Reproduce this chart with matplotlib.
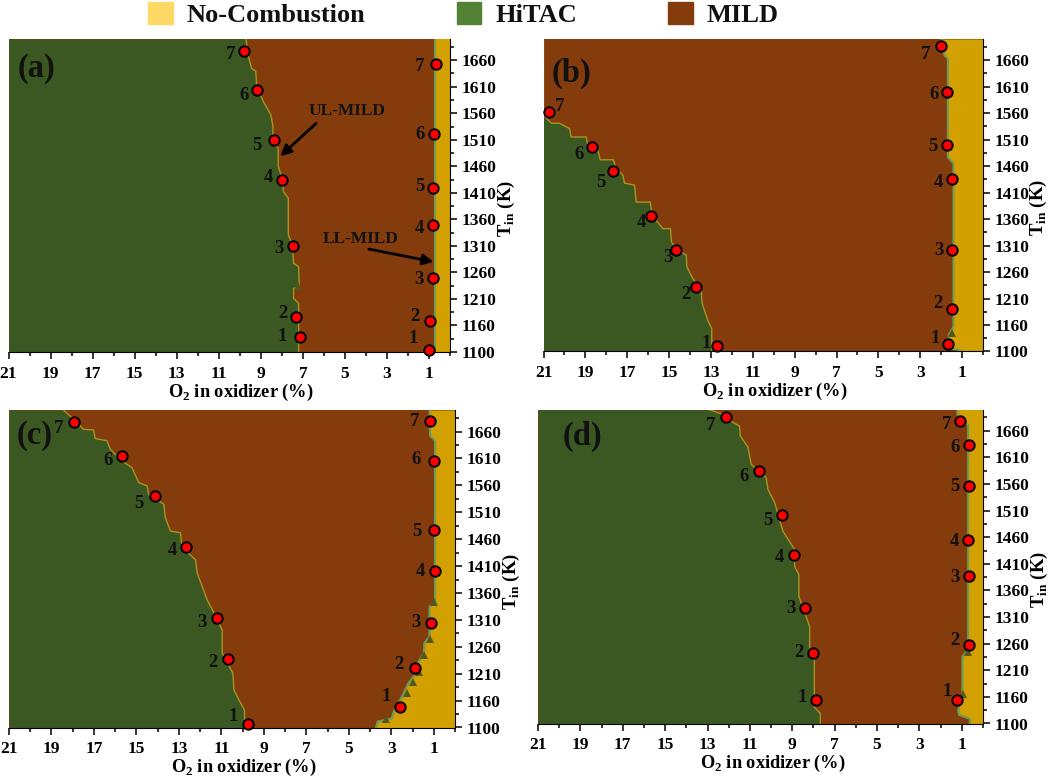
import matplotlib
matplotlib.use('Agg')
import matplotlib.pyplot as plt
from matplotlib.patches import Patch
from matplotlib.ticker import FixedLocator

plt.rcParams['font.family'] = ['Liberation Serif', 'DejaVu Serif']
plt.rcParams['font.weight'] = 'bold'
plt.rcParams['mathtext.fontset'] = 'custom'
plt.rcParams['mathtext.bf'] = 'Liberation Serif:bold'
plt.rcParams['mathtext.rm'] = 'Liberation Serif:bold'

## data (O2 in %, Tin in K)

x_major = [21, 19, 17, 15, 13, 11, 9, 7, 5, 3, 1]
x_minor = [20, 18, 16, 14, 12, 10, 8, 6, 4, 2, 0]
y_major = [1110, 1160, 1210, 1260, 1310, 1360, 1410, 1460, 1510, 1560, 1610, 1660]
y_minor = [1135, 1185, 1235, 1285, 1335, 1385, 1435, 1485, 1535, 1585, 1635, 1685]
y_labels = ['1100', '1160', '1210', '1260', '1310', '1360', '1410', '1460', '1510', '1560', '1610', '1660']
point_names = ['1', '2', '3', '4', '5', '6', '7']

# HiTAC / MILD border
a_upper_O2 = [9.71, 9.55, 9.44, 9.24, 9.19, 8.84, 8.52, 8.42, 8.42, 8.17, 8.17, 7.96, 7.92, 7.69, 7.69, 7.49, 7.44, 7.2, 7.17, 7.44, 7.44, 7.2, 7.2]
a_upper_T = [1700, 1661, 1645, 1639, 1611, 1579, 1557, 1535, 1504, 1494, 1460, 1435, 1412, 1400, 1331, 1312, 1277, 1271, 1233, 1230, 1211, 1202, 1110]
b_upper_O2 = [21, 21, 20.63, 20.24, 19.76, 19.68, 18.96, 18.88, 18.4, 18.29, 17.66, 17.56, 17.21, 17.13, 16.65, 16.57, 15.9, 15.81, 15.3, 14.93, 14.89, 14.66, 14.18, 14.15, 13.87, 13.47, 13.42, 13.15, 12.96, 12.96]
b_upper_T = [1700, 1556, 1541, 1541, 1531, 1515, 1515, 1499, 1490, 1472, 1472, 1458, 1443, 1428, 1424, 1392, 1392, 1367, 1342, 1342, 1317, 1304, 1292, 1270, 1248, 1226, 1201, 1169, 1153, 1110]
c_upper_O2 = [18.44, 17.88, 17.49, 17.02, 16.94, 16.39, 16.23, 15.67, 15.21, 14.89, 14.5, 14.42, 13.71, 13.64, 13.4, 12.93, 12.85, 12.22, 12.14, 11.9, 11.67, 11.43, 10.96, 10.96, 10.46, 10.41, 10.17, 9.91, 9.91]
c_upper_T = [1700, 1680, 1664, 1663, 1647, 1643, 1627, 1605, 1593, 1565, 1559, 1543, 1525, 1500, 1475, 1472, 1444, 1422, 1397, 1372, 1347, 1329, 1291, 1248, 1211, 1180, 1161, 1142, 1110]
d_upper_O2 = [12.94, 12.28, 11.96, 11.49, 11.46, 11.09, 10.94, 10.23, 10.15, 9.83, 9.44, 8.89, 8.89, 8.69, 8.69, 8.18, 8.18, 7.96, 7.96, 7.68, 7.68]
d_upper_T = [1700, 1691, 1679, 1669, 1651, 1629, 1597, 1572, 1550, 1525, 1471, 1437, 1405, 1390, 1349, 1292, 1248, 1236, 1141, 1129, 1110]

# MILD / no-combustion border
a_lower_O2 = [0.7, 0.7]
a_lower_T = [1700, 1110]
b_lower_O2 = [2.0, 1.84, 1.68, 1.68, 1.41, 1.41, 1.64, 1.64, 1.13, 1.05]
b_lower_T = [1700, 1669, 1663, 1477, 1465, 1157, 1141, 1116, 1113, 1110]
c_lower_O2 = [1.2, 1.17, 0.94, 0.94, 1.2, 1.2, 1.44, 1.47, 1.76, 1.83, 2.2, 2.46, 2.86, 2.98, 3.64, 3.72]
c_lower_T = [1700, 1652, 1643, 1341, 1335, 1279, 1267, 1248, 1229, 1211, 1192, 1170, 1142, 1127, 1121, 1110]
d_lower_O2 = [1.22, 1.17, 0.7, 0.7, 0.97, 0.97, 1.17, 1.13, 0.62, 0.62]
d_lower_T = [1700, 1676, 1672, 1248, 1236, 1167, 1135, 1126, 1119, 1110]

# red points, numbered 1 to 7
a_up_pts_O2 = [7.15, 7.33, 7.49, 8.0, 8.38, 9.16, 9.78]
a_up_pts_T = [1138, 1176, 1310, 1435, 1509, 1604, 1677]
a_lo_pts_O2 = [1.02, 0.97, 0.79, 0.79, 0.79, 0.78, 0.68]
a_lo_pts_T = [1114, 1169, 1249, 1349, 1420, 1520, 1653]
b_up_pts_O2 = [12.69, 13.69, 14.66, 15.84, 17.66, 18.69, 20.75]
b_up_pts_T = [1120, 1231, 1302, 1366, 1450, 1496, 1562]
b_lo_pts_O2 = [1.67, 1.48, 1.46, 1.46, 1.72, 1.72, 2.02]
b_lo_pts_T = [1125, 1190, 1302, 1435, 1499, 1600, 1687]
c_up_pts_O2 = [9.75, 10.69, 11.21, 12.66, 14.14, 15.67, 17.92]
c_up_pts_T = [1116, 1238, 1313, 1446, 1540, 1615, 1678]
c_lo_pts_O2 = [2.59, 1.88, 1.13, 0.94, 1.0, 1.0, 1.17]
c_lo_pts_T = [1149, 1221, 1304, 1400, 1477, 1605, 1680]
d_up_pts_O2 = [7.87, 8.01, 8.39, 8.94, 9.47, 10.57, 12.13]
d_up_pts_T = [1154, 1243, 1327, 1426, 1502, 1584, 1685]
d_lo_pts_O2 = [1.22, 0.67, 0.67, 0.69, 0.67, 0.67, 1.08]
d_lo_pts_T = [1154, 1257, 1387, 1454, 1556, 1633, 1679]

# small dark contour spikes
a_spike_O2, a_spike_T = [7.25], [1235]
b_spike_O2, b_spike_T = [1.48], [1145]
c_spike_O2 = [1.0, 1.2, 1.47, 1.69, 1.99, 2.26, 3.25]
c_spike_T = [1344, 1275, 1245, 1214, 1194, 1175, 1125]
d_spike_O2, d_spike_T = [0.73, 0.94], [1244, 1165]

## styles and layout

W, H = 1052, 779
green = '#3b5722'
brown = '#843c0c'
gold = '#d2a000'

# axes edges in pixels: left, right, top, bottom
a_box = (8.5, 450, 39, 352)
b_box = (543.5, 983, 39, 351.5)
c_box = (9, 455, 410, 727.5)
d_box = (538, 983, 409.5, 723.5)

# number label offsets from the point, in pixels
a_up_off = [(-17, 1), (-13, 3), (-14, -3), (-13, 2), (-17, -5), (-13, -6), (-14, -3)]
a_lo_off = [(-15, 11), (-15, 4), (-14, -1), (-14, -3), (-14, 1), (-14, 0), (-16, -3)]
b_up_off = [(-11, 3), (-11, -7), (-8, -8), (-10, -7), (-13, -11), (-13, -7), (11, 6)]
b_lo_off = [(-13, 5), (-14, 6), (-14, -1), (-14, -3), (-14, -1), (-13, -3), (-15, -9)]
c_up_off = [(-15, 8), (-15, -4), (-15, -4), (-14, -4), (-16, -7), (-14, -5), (-16, -7)]
c_lo_off = [(-14, 10), (-16, 3), (-15, 1), (-15, 0), (-17, -1), (-18, 2), (-16, -1)]
d_up_off = [(-14, 3), (-14, 0), (-14, 0), (-14, -2), (-14, -6), (-15, -5), (-15, -8)]
d_lo_off = [(-10, 9), (-14, 5), (-14, -1), (-14, -1), (-14, 0), (-14, -2), (-13, -4)]

fig = plt.figure(figsize=(W / 100, H / 100), dpi=100)


def draw_panel(box, name, name_x, name_y, upper, lower, spikes, up_pts, lo_pts, up_off, lo_off):
    left, right, top, bottom = box
    ax = fig.add_axes([left / W, 1 - bottom / H, (right - left) / W, (bottom - top) / H])
    ax.set_facecolor(brown)
    ax.set_xlim(21, 0)
    ax.set_ylim(1110, 1700)

    # HiTAC on the left, no combustion on the right, MILD shows through between
    ax.fill_betweenx(upper[1], 21, upper[0], color=green, lw=0)
    ax.fill_betweenx(lower[1], lower[0], 0, color=gold, lw=0)
    ax.plot(upper[0], upper[1], color='#a89420', lw=1.0)
    ax.plot(lower[0], lower[1], color='#6f9c55', lw=1.5)
    ax.plot(spikes[0], spikes[1], ls='none', marker='^', ms=6, color='#55561c', mew=0)

    for pts, offs in ((up_pts, up_off), (lo_pts, lo_off)):
        ax.plot(pts[0], pts[1], ls='none', marker='o', ms=7.5, mfc='#ff0000', mec='black', mew=1.4, clip_on=False, zorder=5)
        for i in range(len(point_names)):
            ax.annotate(point_names[i], (pts[0][i], pts[1][i]), xytext=offs[i], textcoords='offset pixels',
                        ha='center', va='center', fontsize=13.5, color='#111111')

    ax.text(name_x, name_y, name, transform=ax.transAxes, fontsize=23.5, ha='left', va='center', color='#111111')

    ax.spines['top'].set_visible(False)
    ax.spines['left'].set_visible(False)
    ax.yaxis.tick_right()
    ax.set_xticks(x_major)
    ax.set_yticks(y_major)
    ax.set_yticklabels(y_labels)
    ax.xaxis.set_minor_locator(FixedLocator(x_minor))
    ax.yaxis.set_minor_locator(FixedLocator(y_minor))
    ax.tick_params(axis='both', which='major', length=5, width=1.1, labelsize=12.5)
    ax.tick_params(axis='both', which='minor', length=3, width=1.1)
    ax.tick_params(axis='x', which='major', pad=5)
    ax.tick_params(axis='y', which='major', pad=3)

    ax.set_xlabel(r'O$_{\mathbf{2}}$ in oxidizer (%)', fontsize=13.2, fontweight='bold')
    ax.xaxis.set_label_coords(0.527, -0.094)
    ax.yaxis.set_label_position('right')
    ax.set_ylabel(r'T$_{\mathbf{in}}$ (K)', fontsize=13.5, fontweight='bold')
    ax.yaxis.set_label_coords(1.103, 0.46)
    return ax


ax_a = draw_panel(a_box, '(a)', 0.02, 0.905, (a_upper_O2, a_upper_T), (a_lower_O2, a_lower_T),
                  (a_spike_O2, a_spike_T), (a_up_pts_O2, a_up_pts_T), (a_lo_pts_O2, a_lo_pts_T), a_up_off, a_lo_off)
ax_b = draw_panel(b_box, '(b)', 0.019, 0.89, (b_upper_O2, b_upper_T), (b_lower_O2, b_lower_T),
                  (b_spike_O2, b_spike_T), (b_up_pts_O2, b_up_pts_T), (b_lo_pts_O2, b_lo_pts_T), b_up_off, b_lo_off)
ax_c = draw_panel(c_box, '(c)', 0.017, 0.92, (c_upper_O2, c_upper_T), (c_lower_O2, c_lower_T),
                  (c_spike_O2, c_spike_T), (c_up_pts_O2, c_up_pts_T), (c_lo_pts_O2, c_lo_pts_T), c_up_off, c_lo_off)
ax_d = draw_panel(d_box, '(d)', 0.055, 0.915, (d_upper_O2, d_upper_T), (d_lower_O2, d_lower_T),
                  (d_spike_O2, d_spike_T), (d_up_pts_O2, d_up_pts_T), (d_lo_pts_O2, d_lo_pts_T), d_up_off, d_lo_off)

# arrows in panel (a)
ax_a.annotate('', xy=(8.07, 1479), xytext=(6.37, 1541),
              arrowprops=dict(arrowstyle='-|>', color='black', lw=2, mutation_scale=16, shrinkA=0, shrinkB=0))
ax_a.text(4.88, 1565, 'UL-MILD', fontsize=12.5, ha='center', va='center', color='#111111')
ax_a.annotate('', xy=(0.78, 1280), xytext=(3.86, 1304),
              arrowprops=dict(arrowstyle='-|>', color='black', lw=2, mutation_scale=16, shrinkA=0, shrinkB=0))
ax_a.text(4.23, 1323, 'LL-MILD', fontsize=12.5, ha='center', va='center', color='#111111')

handles = [Patch(color='#ffd966'), Patch(color='#548235'), Patch(color=brown)]
fig.legend(handles, ['No-Combustion', 'HiTAC', 'MILD'], ncol=3, loc='upper left', bbox_to_anchor=(148 / W, 1 - 2 / H),
           frameon=False, fontsize=19, handlelength=0.94, handleheight=0.9, handletextpad=0.53, columnspacing=3.45,
           borderpad=0, borderaxespad=0, labelcolor='#111111')

fig.savefig('out.png', dpi=100)
